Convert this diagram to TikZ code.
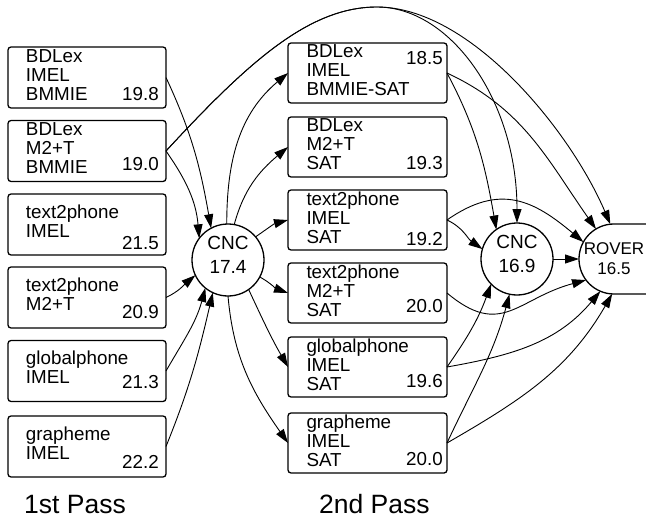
\documentclass[tikz,border=0pt]{standalone}
\usepackage{fontspec}
\setmainfont{Liberation Sans}
\usetikzlibrary{arrows.meta}

\tikzstyle{sysbox} = [draw, rectangle, line width=1.3pt, rounded corners=3pt, minimum height=61pt, text width=122pt, inner xsep=18pt, inner ysep=0pt, outer sep=0pt, align=left, font=\fontsize{18.8}{19}\selectfont]
\tikzstyle{tri}    = [text depth=43pt]
\tikzstyle{duo}    = [text depth=26pt]
\tikzstyle{num}    = [anchor=base east, inner sep=0pt, font=\fontsize{18.8}{19}\selectfont]
\tikzstyle{combo}  = [draw, circle, line width=1.3pt, minimum size=72pt, inner sep=0pt, outer sep=0pt, align=center, text depth=10.5pt, font=\fontsize{19}{24}\selectfont]
\tikzstyle{flow}   = [-{Triangle[length=14pt,width=9pt]}, line width=0.9pt]
\tikzstyle{pass}   = [anchor=base west, inner sep=0pt, font=\fontsize{26.5}{30}\selectfont]

\begin{document}
\begin{tikzpicture}[x=1pt,y=1pt]
  \useasboundingbox (0,0) rectangle (646,-519);
  \clip (0,0) rectangle (646,-519);
  % 1st pass
  \node at (87,-77.5) (l1) [sysbox, tri, minimum width=158pt] {BDLex\\IMEL\\BMMIE};
  \node at (87,-151)  (l2) [sysbox, tri, minimum width=158pt] {BDLex\\M2+T\\BMMIE};
  \node at (87,-224.5) (l3) [sysbox, duo, minimum width=158pt] {text2phone\\IMEL};
  \node at (87,-297.5) (l4) [sysbox, duo, minimum width=158pt] {text2phone\\M2+T};
  \node at (87,-371)  (l5) [sysbox, duo, minimum width=158pt] {globalphone\\IMEL};
  \node at (87,-446.5) (l6) [sysbox, duo, minimum width=158pt] {grapheme\\IMEL};
  \node at (159,-101) [num] {19.8};
  \node at (159,-170) [num] {19.0};
  \node at (159,-249) [num] {21.5};
  \node at (159,-318) [num] {20.9};
  \node at (159,-388) [num] {21.3};
  \node at (159,-468) [num] {22.2};
  % 2nd pass
  \node at (367.5,-73)  (rA) [sysbox, tri, minimum width=159pt, minimum height=60pt] {BDLex\\IMEL\\BMMIE-SAT};
  \node at (367.5,-147) (rB) [sysbox, tri, minimum width=159pt, minimum height=60pt] {BDLex\\M2+T\\SAT};
  \node at (367.5,-220) (rC) [sysbox, tri, minimum width=159pt, minimum height=60pt] {text2phone\\IMEL\\SAT};
  \node at (367.5,-293) (rD) [sysbox, tri, minimum width=159pt, minimum height=60pt] {text2phone\\M2+T\\SAT};
  \node at (367.5,-367) (rE) [sysbox, tri, minimum width=159pt, minimum height=60pt] {globalphone\\IMEL\\SAT};
  \node at (367.5,-443) (rF) [sysbox, tri, minimum width=159pt, minimum height=60pt] {grapheme\\IMEL\\SAT};
  \node at (443,-65)  [num] {18.5};
  \node at (443,-169) [num] {19.3};
  \node at (443,-245) [num] {19.2};
  \node at (443,-312) [num] {20.0};
  \node at (443,-387) [num] {19.6};
  \node at (443,-465) [num] {20.0};
  % combination
  \node at (228,-260) (c1) [combo] {CNC\\17.4};
  \node at (517,-259) (c2) [combo] {CNC\\16.9};
  \node at (614,-259) (rv) [circle, minimum size=70pt, inner sep=0pt, outer sep=0pt, align=center, font=\fontsize{17}{20}\selectfont] {ROVER\\16.5};
  \draw[line width=1.3pt] ([xshift=40pt]rv.north) -- (rv.north) arc[start angle=90, end angle=270, radius=35pt] -- ([xshift=40pt]rv.south);
  \coordinate (apex) at (377,-7);
  % into CNC 1
  \draw[flow] (l1.east) to[out=-65,in=100] (c1.118);
  \draw[flow] (l2.east) to[out=-55,in=95] (c1.143);
  \draw[flow] (l4.east) to[out=25,in=220] (c1.205);
  \draw[flow] (l5.east) to[out=60,in=-105] (c1.231);
  \draw[flow] (l6.east) to[out=68,in=-103] (c1.245);
  % out of CNC 1
  \draw[flow] (c1.92) to[out=90,in=220] (rA.west);
  \draw[flow] (c1.80) to[out=75,in=220] (rB.west);
  \draw[flow] (c1.40) to[out=35,in=195] (rC.west);
  \draw[flow] (c1.-28) to[out=-30,in=160] (rD.west);
  \draw[flow] (c1.-55) to[out=-65,in=120] (rE.west);
  \draw[flow] (c1.south) to[out=-85,in=125] (rF.west);
  % over the top
  \draw[flow] (l2.east) .. controls (250,-60) and (310,-7) .. (apex) .. controls (450,-7) and (517,-100) .. (c2.north);
  \draw[flow] (l2.east) .. controls (250,-60) and (310,-7) .. (apex) .. controls (470,-7) and (570,-130) .. (rv.96);
  % into CNC 2 and ROVER
  \draw[flow] (rA.east) to[out=-62,in=100] (c2.125);
  \draw[flow] (rA.east) to[out=-25,in=125] (rv.121);
  \draw[flow] (rC.east) to[out=-25,in=145] (c2.164);
  \draw[flow] (rC.east) to[out=35,in=140,looseness=1.2] (rv.151);
  \draw[flow] (rD.east) to[out=-40,in=195,looseness=1.3] (rv.217);
  \draw[flow] (rE.east) to[out=55,in=-110] (c2.224);
  \draw[flow] (rE.east) to[out=10,in=-130] (rv.247);
  \draw[flow] (rF.east) to[out=65,in=-105] (c2.258);
  \draw[flow] (rF.east) to[out=30,in=-120] (rv.267);
  \draw[flow] (c2.east) -- (rv.west);
  % labels
  \node at (24,-513) [pass] {1st Pass};
  \node at (319,-513) [pass] {2nd Pass};
\end{tikzpicture}
\end{document}
